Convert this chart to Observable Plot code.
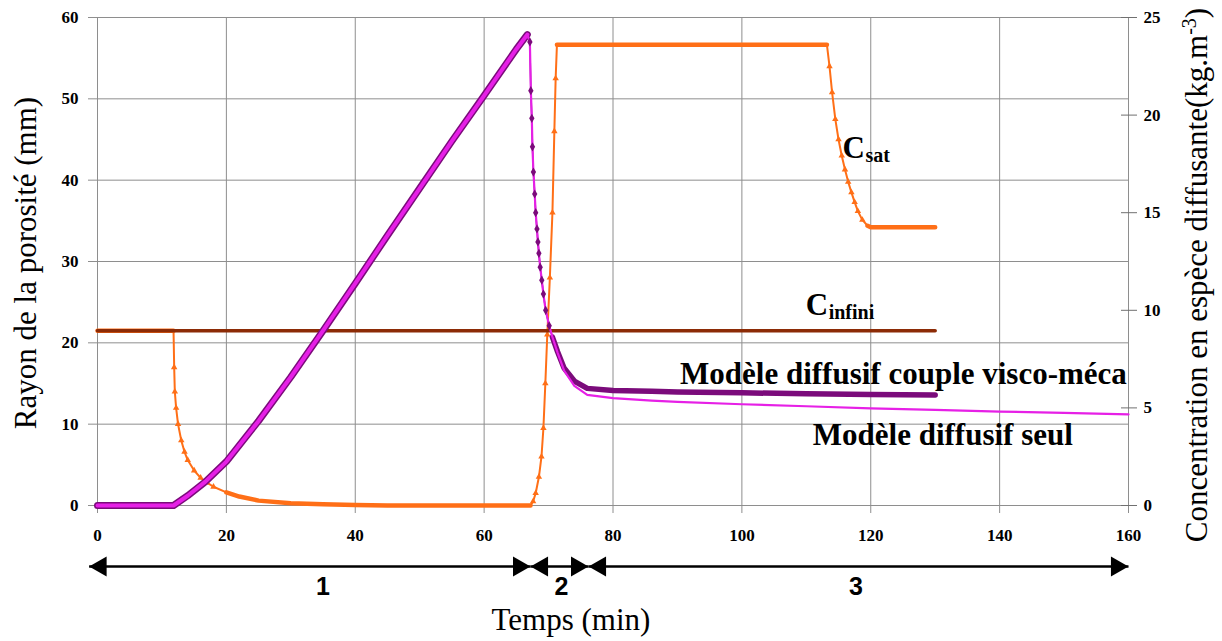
<!DOCTYPE html>
<html><head><meta charset="utf-8">
<script src="https://cdn.jsdelivr.net/npm/d3@7"></script>
<script src="https://cdn.jsdelivr.net/npm/@observablehq/plot@0.6"></script>
<style>
html,body{margin:0;padding:0;background:#fff;}
#chart{width:1222px;height:641px;}
</style></head><body><div id="chart"></div>
<script>
// ---------- data ----------
// Concentration (kg.m-3), right axis — "Csat" curve
const concTime  = [0, 11.8, 11.9, 12.0, 12.2, 12.5, 13, 13.5, 14, 15, 16, 17, 18, 20, 22, 25, 30, 35, 40, 45, 55, 67.2, 67.6, 68, 68.5, 68.9, 69.2, 69.5, 69.8, 70.2, 70.6, 70.9, 71.1, 71.3, 80, 90, 100, 113.2, 113.6, 114, 114.5, 115, 115.5, 116, 116.5, 117, 117.5, 118, 118.7, 119.5, 120, 125, 130];
const concValue = [8.95, 8.95, 7.08, 5.83, 5.0, 4.17, 3.33, 2.75, 2.33, 1.79, 1.42, 1.17, 0.96, 0.67, 0.46, 0.25, 0.12, 0.06, 0.02, 0, 0, 0, 0.21, 0.63, 1.46, 2.5, 3.96, 6.25, 8.75, 11.67, 15.0, 19.17, 21.88, 23.6, 23.6, 23.6, 23.6, 23.6, 22.5, 21.17, 19.79, 18.75, 17.92, 17.21, 16.58, 16.04, 15.54, 15.08, 14.63, 14.33, 14.25, 14.25, 14.25];
// C infini (kg.m-3)
const cInfTime  = [0, 130];
const cInfValue = [8.95, 8.95];
// Rayon de la porosité (mm) — Modèle diffusif seul
const seulTime  = [0, 11.8, 14, 16.7, 20, 25, 30, 35, 40, 45, 50, 55, 60, 65, 66.7, 67.1, 67.25, 67.4, 67.5, 67.65, 67.85, 68.0, 68.2, 68.35, 68.5, 68.7, 68.95, 69.2, 69.55, 70.1, 70.6, 71.4, 72.4, 74.0, 76.0, 80, 86, 90, 100, 110, 120, 130, 140, 150, 160];
const seulValue = [0, 0, 1.2, 2.9, 5.4, 10.4, 15.8, 21.5, 27.3, 33.2, 39.0, 44.8, 50.4, 56.1, 57.9, 57.0, 51.0, 47.6, 44.1, 41.0, 38.3, 36.0, 34.0, 32.4, 31.0, 29.3, 27.7, 26.0, 24.0, 22.1, 20.7, 18.8, 16.6, 14.7, 13.6, 13.2, 12.9, 12.75, 12.45, 12.2, 11.95, 11.75, 11.55, 11.4, 11.2];
// Rayon de la porosité (mm) — Modèle diffusif couple visco-méca
const coupleTime  = [0, 11.8, 14, 16.7, 20, 25, 30, 35, 40, 45, 50, 55, 60, 65, 66.7, 67.1, 67.25, 67.4, 67.5, 67.65, 67.85, 68.0, 68.2, 68.35, 68.5, 68.7, 68.95, 69.2, 69.55, 70.1, 70.6, 71.4, 72.4, 74.0, 76.0, 80, 86, 90, 100, 110, 120, 130];
const coupleValue = [0, 0, 1.2, 2.9, 5.4, 10.4, 15.8, 21.5, 27.3, 33.2, 39.0, 44.8, 50.4, 56.1, 57.9, 57.0, 51.0, 47.6, 44.1, 41.0, 38.3, 36.0, 34.0, 32.4, 31.0, 29.3, 27.7, 26.0, 24.0, 22.1, 20.7, 18.9, 16.9, 15.3, 14.4, 14.15, 14.05, 13.95, 13.85, 13.75, 13.65, 13.6];
// ticks
const xTicks = [0, 20, 40, 60, 80, 100, 120, 140, 160];
const yTicks = [0, 10, 20, 30, 40, 50, 60];
const concTicks = [0, 5, 10, 15, 20, 25];
// phases
const phaseBounds = [-1.3, 67.2, 76.2, 160];
const phaseLabels = ["1", "2", "3"];
const phaseLabelX = [35, 72, 117.7];

// ---------- build ----------
const MM_PER_CONC = 60 / 25;
const ORANGE = "#FF6F17", BROWN = "#8C2B06", PURPLE = "#7B0B7B", MAGENTA = "#E620E6", GRID = "#8e8e8e";
const SERIF = "Liberation Serif";
const SANS = "Liberation Sans";

const orange = concTime.map((t, i) => ({t, v: concValue[i] * MM_PER_CONC}));
const cInf = cInfTime.map((t, i) => ({t, v: cInfValue[i] * MM_PER_CONC}));
const seul = seulTime.map((t, i) => ({t, v: seulValue[i]}));
const couple = coupleTime.map((t, i) => ({t, v: coupleValue[i]}));

const inRanges = (t, ranges) => ranges.some(([a, b]) => t >= a && t <= b);
const orangeFlat = [[0, 11.8], [20, 67.3], [71.3, 113.2], [119.5, 130]];
const orangeSteep = [[11.85, 19.9], [67.3, 71.25], [113.3, 119.4]];
const PEAK = 66.7, SPLIT = 70.6;

const segs = phaseLabels.map((l, i) => ({a: phaseBounds[i], b: phaseBounds[i + 1], label: l, lx: phaseLabelX[i]}));
const ARROW_Y = -7.5, LABEL_Y = -9.96;

const annots = [
  {text: "Modèle diffusif couple visco-méca", x: 90.4, y: 15.0},
  {text: "Modèle diffusif seul", x: 111.0, y: 7.45},
  {text: "C", x: 115.6, y: 42.7},
  {text: "C", x: 109.9, y: 23.4}
];
const subs = [
  {text: "sat", x: 115.6, y: 42.7},
  {text: "infini", x: 109.9, y: 23.4}
];

const axisText = {fontFamily: SERIF, fontWeight: "bold", fontSize: 17, label: null};
const plot = Plot.plot({
  width: 1222, height: 641,
  marginLeft: 97, marginRight: 94, marginTop: 17, marginBottom: 136,
  x: {domain: [0, 160], label: null},
  y: {domain: [0, 60], label: null},
  style: {fontFamily: SERIF, fontSize: "17px", background: "#fff", overflow: "visible", color: "#000"},
  marks: [
    Plot.gridX({ticks: xTicks, stroke: GRID, strokeOpacity: 1}),
    Plot.gridY({ticks: yTicks, stroke: GRID, strokeOpacity: 1}),
    // tick marks (gray) and tick labels (black) as separate axis marks
    Plot.axisX({ticks: xTicks, tickSize: 8, tickFormat: () => "", stroke: GRID, label: null}),
    Plot.axisX({ticks: xTicks, tickSize: 0, tickPadding: 23, ...axisText}),
    Plot.axisY({ticks: yTicks, tickSize: 9, tickFormat: () => "", stroke: GRID, label: null}),
    Plot.axisY({ticks: yTicks, tickSize: 0, tickPadding: 19, ...axisText}),
    Plot.axisY({anchor: "right", ticks: concTicks.map(c => c * MM_PER_CONC), tickSize: 16, dx: -8, tickFormat: () => "", stroke: "#707070", label: null}),
    Plot.axisY({anchor: "right", ticks: concTicks.map(c => c * MM_PER_CONC), tickFormat: d => String(Math.round(d / MM_PER_CONC)), tickSize: 0, tickPadding: 15, ...axisText}),
    // concentration curve
    Plot.line(orange, {x: "t", y: "v", stroke: ORANGE, strokeWidth: 2}),
    Plot.line(orange, {x: "t", y: d => inRanges(d.t, orangeFlat) ? d.v : NaN, stroke: ORANGE, strokeWidth: 4.5}),
    Plot.dot(orange, {filter: d => inRanges(d.t, orangeSteep), x: "t", y: "v", symbol: "triangle", r: 2.4, fill: ORANGE}),
    // C infini
    Plot.line(cInf, {x: "t", y: "v", stroke: BROWN, strokeWidth: 3.5}),
    // couple visco-méca
    Plot.line(couple, {x: "t", y: d => d.t <= PEAK ? d.v : NaN, stroke: PURPLE, strokeWidth: 7}),
    Plot.line(couple, {x: "t", y: "v", stroke: PURPLE, strokeWidth: 1.5}),
    Plot.line(couple, {x: "t", y: d => d.t >= SPLIT ? d.v : NaN, stroke: PURPLE, strokeWidth: 5.5}),
    // diffusif seul
    Plot.line(seul, {x: "t", y: d => d.t <= PEAK ? d.v : NaN, stroke: MAGENTA, strokeWidth: 4}),
    Plot.line(seul, {x: "t", y: "v", stroke: MAGENTA, strokeWidth: 2.2}),
    Plot.dot(couple, {filter: d => d.t > PEAK && d.t < SPLIT, x: "t", y: "v", symbol: "diamond", r: 2.8, fill: PURPLE}),
    // annotations
    Plot.text(annots, {x: "x", y: "y", text: "text", textAnchor: "start", lineAnchor: "bottom", fontSize: 31, fontWeight: "bold", fill: "#000"}),
    Plot.text(subs, {x: "x", y: "y", text: "text", textAnchor: "start", lineAnchor: "bottom", fontSize: 20, fontWeight: "bold", fill: "#000", dx: 23, dy: 4}),
    // phase arrows
    Plot.link(segs, {x1: "a", x2: "b", y1: () => ARROW_Y, y2: () => ARROW_Y, stroke: "#000", strokeWidth: 2.5}),
    Plot.dot(segs, {x: "a", y: () => ARROW_Y, symbol: "triangle", r: 7.5, rotate: -90, fill: "#000", dx: 11.7}),
    Plot.dot(segs, {x: "b", y: () => ARROW_Y, symbol: "triangle", r: 7.5, rotate: 90, fill: "#000", dx: -11.7}),
    Plot.text(segs, {x: "lx", y: () => LABEL_Y, text: "label", fontFamily: SANS, fontWeight: "bold", fontSize: 25, fill: "#000"})
  ]
});

document.getElementById("chart").appendChild(plot);
const svg = d3.select(plot);
svg.append("text")
  .attr("transform", "translate(36,263) rotate(-90)")
  .attr("text-anchor", "middle")
  .attr("font-family", SERIF).attr("font-size", 31).attr("fill", "#000")
  .text("Rayon de la porosité (mm)");
const rl = svg.append("text")
  .attr("transform", "translate(1207,275) rotate(-90)")
  .attr("text-anchor", "middle")
  .attr("font-family", SERIF).attr("font-size", 31).attr("fill", "#000");
rl.append("tspan").text("Concentration en espèce diffusante(kg.m");
rl.append("tspan").attr("font-size", 20).attr("dy", "-0.55em").text("-3");
rl.append("tspan").attr("dy", "0.35em").text(")");
svg.append("text")
  .attr("x", 571).attr("y", 630)
  .attr("text-anchor", "middle")
  .attr("font-family", SERIF).attr("font-size", 31).attr("fill", "#000")
  .text("Temps (min)");
</script></body></html>
